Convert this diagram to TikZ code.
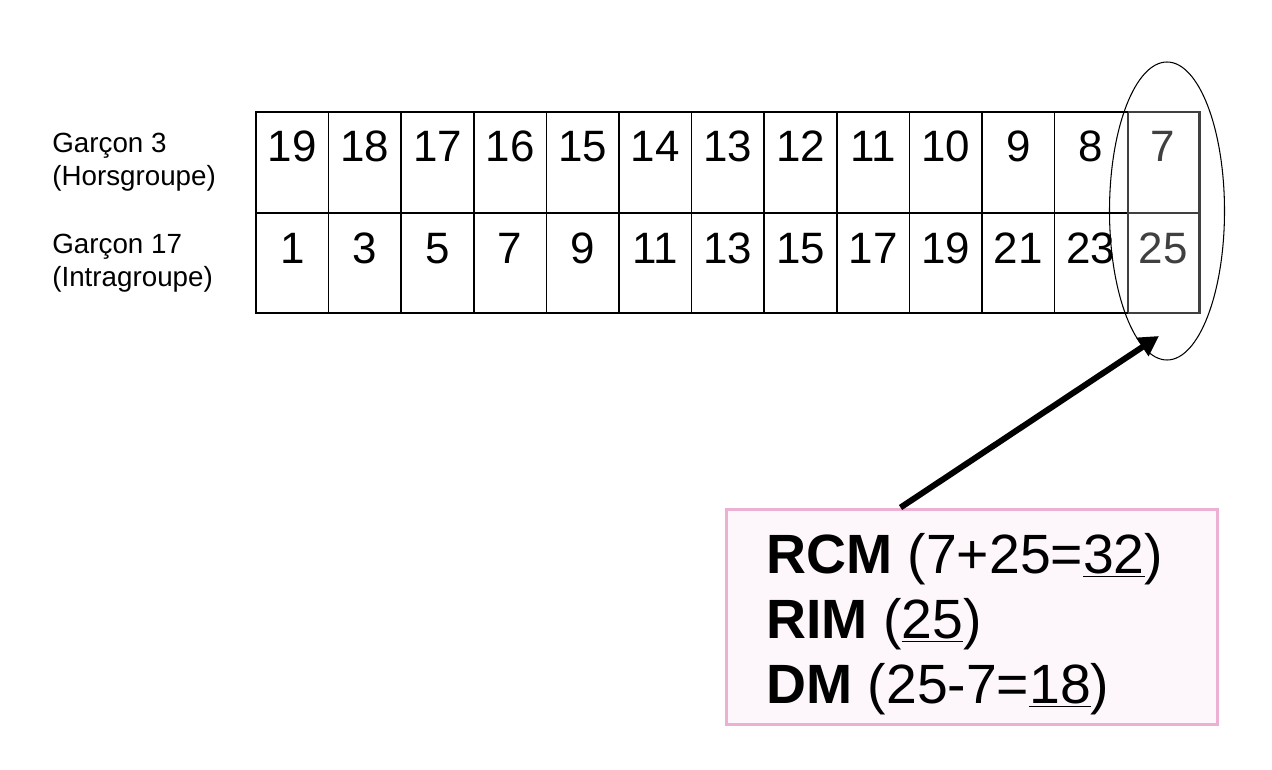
\documentclass[tikz,border=0pt]{standalone}
\usepackage{fontspec}
\setmainfont{Liberation Sans}
\usetikzlibrary{arrows.meta}
\definecolor{boxpink}{RGB}{236,176,210}
\definecolor{boxfill}{RGB}{253,247,251}
\definecolor{lastgray}{RGB}{64,64,64}
\begin{document}
\begin{tikzpicture}[x=0.02cm,y=-0.02cm,
    cellnum/.style={font=\fontsize{25}{30}\selectfont, inner sep=0pt, anchor=base},
    rowlabel/.style={font=\fontsize{15.8}{19}\selectfont, align=left, anchor=west, inner sep=0pt},
    resline/.style={font=\fontsize{31.5}{37}\selectfont, anchor=base west, inner sep=0pt}]
    \useasboundingbox (0,0) rectangle (1272,770);

    % grille
    \foreach \i in {1,...,11}
      \draw[line width=0.85pt] (256+72.6*\i,112) -- (256+72.6*\i,313);
    \draw[line width=0.85pt] (256,213) -- (1128,213);
    \draw[line width=0.85pt,color=lastgray] (1128,112) -- (1128,313);
    \draw[line width=0.85pt,color=lastgray] (1128,213) -- (1199,213);
    \draw[line width=1.7pt] (1128,112) -- (256,112) -- (256,313) -- (1128,313);
    \draw[line width=1.7pt,color=lastgray] (1128,112) -- (1199,112) -- (1199,313) -- (1128,313);

    \foreach \i in {0,...,11} {
      \pgfmathtruncatemacro{\hors}{19-\i}
      \pgfmathtruncatemacro{\intra}{2*\i+1}
      \node[cellnum] (h\i) at (256+72.6*\i+36.3,162) {\hors};
      \node[cellnum] (g\i) at (256+72.6*\i+36.3,264) {\intra};
    }
    \node[cellnum,text=lastgray] (h12) at (1163,162) {7};
    \node[cellnum,text=lastgray] (g12) at (1163,264) {25};

    \node[rowlabel] (hors) at (52,162) {Garçon 3\\(Horsgroupe)};
    \node[rowlabel] (intra) at (52,263) {Garçon 17\\(Intragroupe)};

    \draw[line width=0.6pt] (1167,211) ellipse [x radius=57.5, y radius=149];
    \coordinate (tip) at (1159,336);

    \node[draw=boxpink,fill=boxfill,line width=1.7pt,minimum width=9.84cm,minimum height=4.32cm,inner sep=0pt]
      (res) at (972,617) {};
    \node[resline] (rcm) at (766,573) {\textbf{RCM} (7+25=\underline{32})};
    \node[resline] (rim) at (766,638) {\textbf{RIM} (\underline{25})};
    \node[resline] (dm) at (766,703) {\textbf{DM} (25-7=\underline{18})};

    \draw[line width=3.4pt,-{Triangle[length=0.4cm,width=0.42cm]}]
      ([xshift=3.52cm]res.north west) -- (tip);
\end{tikzpicture}
\end{document}
